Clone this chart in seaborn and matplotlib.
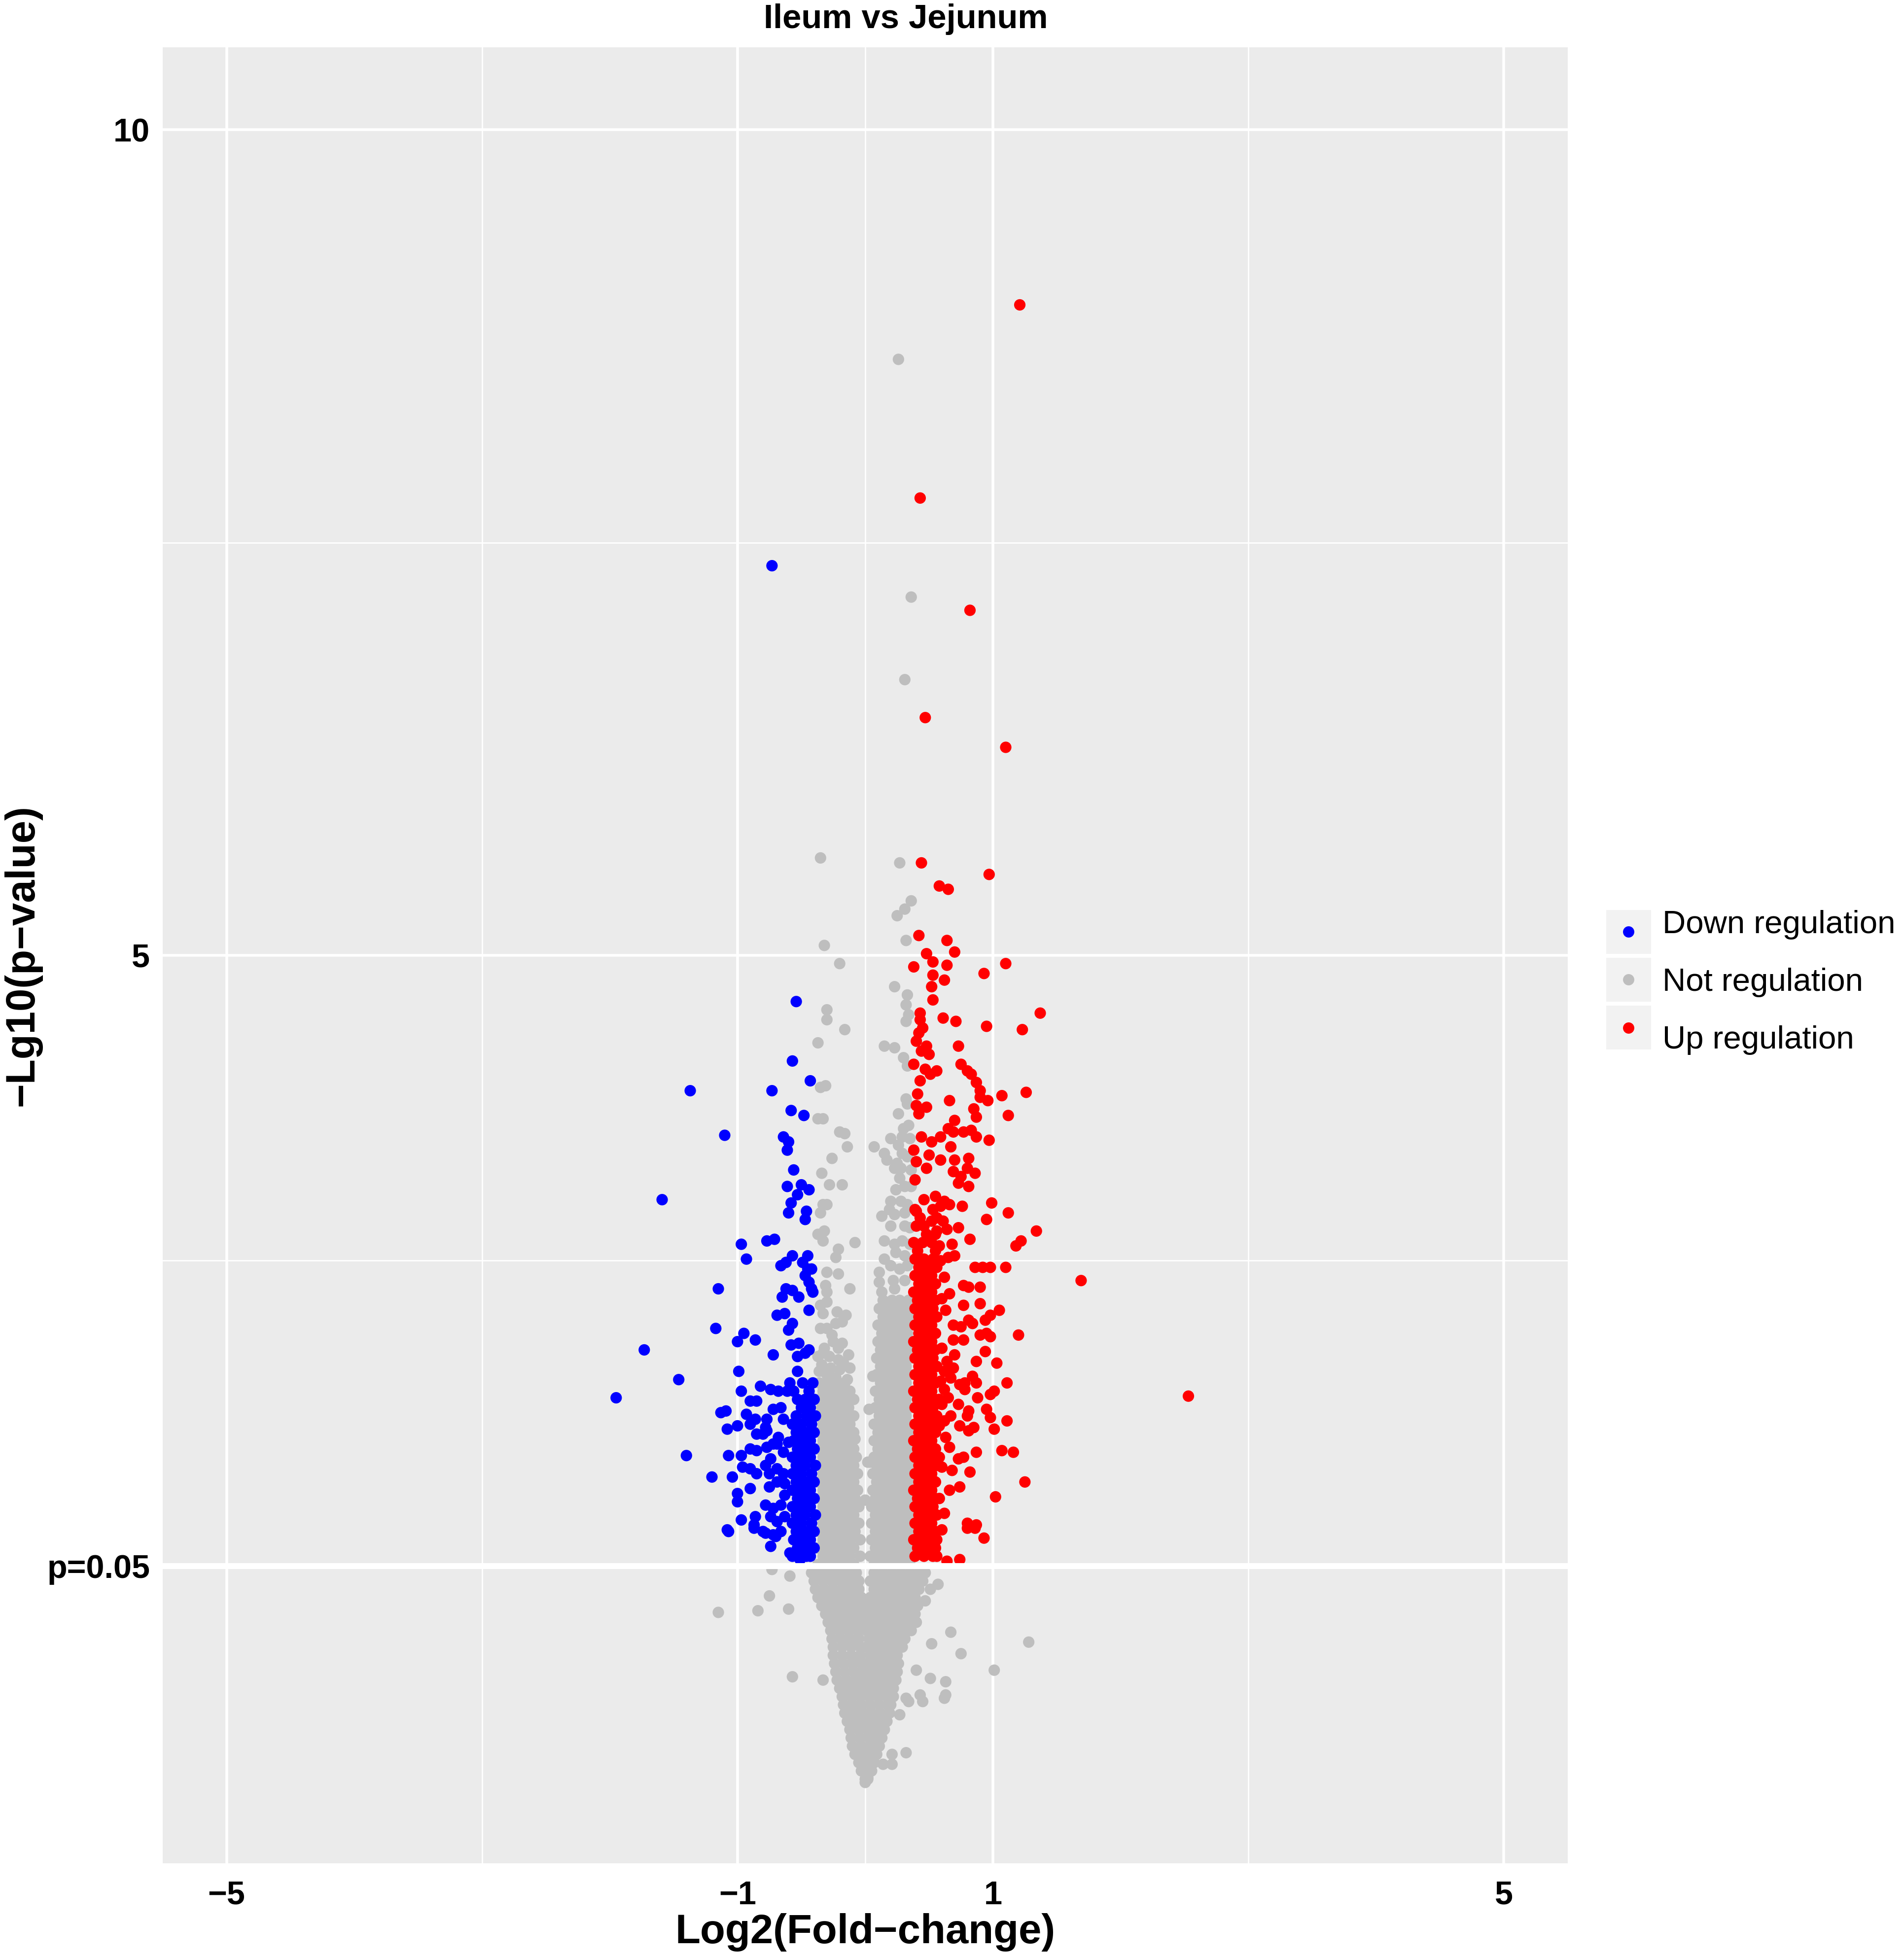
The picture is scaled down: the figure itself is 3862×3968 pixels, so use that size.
import matplotlib
matplotlib.use("Agg")
import matplotlib.pyplot as plt
import seaborn as sns
import pandas as pd
from matplotlib.patches import Rectangle
from matplotlib.lines import Line2D

# ---------------- data ----------------
title = "Ileum vs Jejunum"
x_label = "Log2(Fold\u2212change)"
y_label = "\u2212Lg10(p\u2212value)"
group_names = ["Down regulation", "Not regulation", "Up regulation"]
group_colors = ["#0000FF", "#BEBEBE", "#FF0000"]
x_ticks = [-5, -1, 1, 5]
x_tick_labels = ["\u22125", "\u22121", "1", "5"]
y_ticks = [1.30103, 5, 10]
y_tick_labels = ["p=0.05", "5", "10"]

# isolated down-regulated points (log2FC, -log10 p)
down_pts = [
    (-0.73, 7.36), (-0.54, 4.72), (-0.57, 4.36), (-0.43, 4.24), (-1.37, 4.18), (-0.73, 4.18),
    (-0.58, 4.06), (-0.48, 4.03), (-1.10, 3.91), (-0.64, 3.90), (-0.60, 3.87), (-0.61, 3.82),
    (-0.56, 3.70), (-0.61, 3.60), (-0.50, 3.61), (-0.44, 3.58), (-0.53, 3.55), (-0.58, 3.50),
    (-0.60, 3.44), (-0.46, 3.45), (-0.47, 3.40), (-1.59, 3.52), (-0.97, 3.25), (-0.77, 3.27),
    (-0.71, 3.28), (-0.93, 3.16), (-0.57, 3.18), (-0.45, 3.18), (-0.66, 3.12), (-0.62, 3.14),
    (-0.49, 3.14), (-0.45, 3.10), (-0.42, 3.10), (-0.47, 3.06), (-0.44, 3.02), (-0.42, 2.98),
    (-0.41, 2.96), (-1.15, 2.98), (-0.62, 2.98), (-0.57, 2.97), (-0.65, 2.93), (-0.52, 2.93),
    (-0.44, 2.85), (-0.69, 2.82), (-0.63, 2.83), (-0.57, 2.77), (-0.60, 2.73), (-1.17, 2.74),
    (-0.95, 2.71), (-1.00, 2.66), (-0.86, 2.67), (-1.73, 2.61), (-0.58, 2.64), (-0.52, 2.65),
    (-0.72, 2.58), (-0.53, 2.57), (-0.47, 2.59), (-0.44, 2.61), (-0.99, 2.48), (-0.53, 2.48),
    (-1.46, 2.43), (-1.95, 2.32), (-0.59, 2.41), (-0.82, 2.39), (-0.97, 2.36), (-0.74, 2.37),
    (-0.68, 2.36), (-0.61, 2.36), (-0.90, 2.30), (-0.85, 2.30), (-1.13, 2.23), (-1.09, 2.24),
    (-0.93, 2.22), (-0.86, 2.19), (-0.90, 2.16), (-0.72, 2.25), (-0.66, 2.26), (-0.64, 2.19),
    (-0.77, 2.19), (-0.78, 2.14), (-1.08, 2.13), (-1.00, 2.15), (-0.85, 2.10), (-0.80, 2.10),
    (-0.77, 2.12), (-0.68, 2.08), (-0.69, 2.04), (-0.60, 2.05), (-1.40, 1.97), (-1.07, 1.97),
    (-0.97, 1.97), (-0.90, 2.01), (-0.85, 2.00), (-0.77, 2.02), (-0.72, 2.04), (-0.64, 1.99),
    (-0.96, 1.90), (-0.90, 1.89), (-0.85, 1.86), (-0.78, 1.91), (-0.74, 1.95), (-0.75, 1.86),
    (-1.20, 1.84), (-1.04, 1.84), (-0.69, 1.89), (-0.64, 1.86), (-0.90, 1.77), (-1.00, 1.74),
    (-1.00, 1.69), (-0.75, 1.78), (-0.69, 1.81), (-0.63, 1.80), (-0.63, 1.73), (-0.78, 1.67),
    (-0.72, 1.65), (-0.66, 1.67), (-0.97, 1.58), (-0.86, 1.60), (-0.87, 1.55), (-1.08, 1.52),
    (-0.80, 1.51), (-0.74, 1.60), (-0.69, 1.57), (-0.63, 1.60), (-0.72, 1.49), (-0.66, 1.51),
    (-0.74, 1.42), (-0.87, 1.53), (-0.78, 1.50), (-0.70, 1.48), (-0.59, 1.38), (-0.51, 1.34),
    (-0.46, 1.36), (-0.43, 1.43), (-1.07, 1.51),
]
# densely packed down-regulated rows: (-log10 p, [log2FC ...])
down_rows = [
    (2.41, [-0.41, -0.49]), (2.36, [-0.44, -0.56]), (2.31, [-0.40, -0.47, -0.53]),
    (2.26, [-0.43, -0.50]), (2.21, [-0.39, -0.46, -0.54]), (2.16, [-0.42, -0.50, -0.57]),
    (2.11, [-0.40, -0.47, -0.54]), (2.06, [-0.43, -0.50, -0.56]), (2.01, [-0.40, -0.46, -0.53]),
    (1.96, [-0.43, -0.50, -0.57]), (1.91, [-0.39, -0.47, -0.54]), (1.86, [-0.42, -0.50, -0.57]),
    (1.81, [-0.40, -0.47, -0.54]), (1.76, [-0.43, -0.50, -0.57]), (1.71, [-0.40, -0.46, -0.53]),
    (1.66, [-0.43, -0.50, -0.57]), (1.61, [-0.39, -0.47, -0.54]), (1.56, [-0.42, -0.50, -0.57]),
    (1.51, [-0.40, -0.47, -0.54]), (1.46, [-0.43, -0.50, -0.56]), (1.41, [-0.40, -0.46, -0.53]),
    (1.36, [-0.43, -0.50, -0.57]),
]

# isolated up-regulated points
up_pts = [
    (1.21, 8.94), (0.43, 7.77), (0.82, 7.09), (0.47, 6.44), (1.10, 6.26), (0.44, 5.56),
    (0.97, 5.49), (0.58, 5.42), (0.65, 5.40), (0.42, 5.12), (0.64, 5.09), (0.70, 5.02),
    (0.48, 5.01), (0.53, 4.96), (0.38, 4.93), (0.64, 4.94), (1.10, 4.95), (0.93, 4.89),
    (0.53, 4.88), (0.62, 4.85), (0.52, 4.81), (0.53, 4.73), (1.37, 4.65), (0.43, 4.65),
    (0.43, 4.61), (0.61, 4.62), (0.71, 4.60), (0.95, 4.57), (1.23, 4.55), (0.45, 4.56),
    (0.42, 4.53), (0.40, 4.48), (0.48, 4.45), (0.44, 4.42), (0.50, 4.40), (0.73, 4.45),
    (0.38, 4.34), (0.75, 4.34), (0.80, 4.30), (0.83, 4.28), (0.47, 4.31), (0.51, 4.28),
    (0.56, 4.30), (0.43, 4.24), (0.87, 4.23), (0.90, 4.18), (0.90, 4.14), (0.96, 4.12),
    (1.07, 4.15), (1.26, 4.17), (0.41, 4.16), (0.40, 4.09), (0.48, 4.08), (0.42, 4.04),
    (0.66, 4.12), (0.85, 4.07), (0.87, 4.02), (1.12, 4.03), (0.70, 4.00), (0.65, 3.95),
    (0.69, 3.93), (0.77, 3.93), (0.83, 3.94), (0.87, 3.90), (0.97, 3.88), (0.44, 3.90),
    (0.52, 3.87), (0.59, 3.90), (0.67, 3.84), (0.38, 3.82), (0.50, 3.79), (0.40, 3.75),
    (0.48, 3.71), (0.59, 3.76), (0.70, 3.76), (0.81, 3.77), (0.69, 3.69), (0.75, 3.66),
    (0.80, 3.71), (0.86, 3.68), (0.39, 3.64), (0.81, 3.60), (0.73, 3.62), (0.46, 3.52),
    (0.55, 3.54), (0.62, 3.51), (0.59, 3.48), (0.66, 3.49), (0.76, 3.48), (0.99, 3.50),
    (1.12, 3.44), (0.95, 3.40), (0.40, 3.45), (0.52, 3.39), (0.56, 3.41), (0.61, 3.39),
    (0.73, 3.35), (0.64, 3.34), (0.56, 3.33), (1.34, 3.33), (1.22, 3.27), (1.18, 3.24),
    (0.82, 3.28), (0.68, 3.25), (0.58, 3.24), (0.65, 3.17), (0.59, 3.15), (0.86, 3.11),
    (0.92, 3.11), (0.98, 3.11), (1.10, 3.11), (1.69, 3.03), (0.77, 3.00), (0.81, 2.99),
    (0.90, 2.99), (0.77, 2.88), (0.90, 2.89), (1.05, 2.85), (0.98, 2.82), (0.94, 2.79),
    (0.81, 2.79), (0.84, 2.77), (0.69, 2.76), (0.75, 2.75), (1.20, 2.70), (0.90, 2.70),
    (0.95, 2.71), (0.98, 2.69), (0.77, 2.67), (0.69, 2.67), (0.94, 2.60), (0.87, 2.54),
    (1.03, 2.53), (0.64, 2.54), (0.69, 2.50), (0.84, 2.45), (0.87, 2.41), (0.78, 2.41),
    (0.74, 2.40), (1.11, 2.41), (0.59, 2.42), (0.62, 2.37), (0.58, 2.31), (0.67, 2.44),
    (0.98, 2.34), (1.01, 2.36), (0.78, 2.37), (0.88, 2.32), (2.53, 2.33), (0.73, 2.28),
    (0.81, 2.24), (0.80, 2.21), (0.95, 2.25), (0.98, 2.20), (0.67, 2.21), (0.62, 2.18),
    (0.58, 2.15), (0.74, 2.15), (0.81, 2.12), (0.85, 2.14), (1.11, 2.18), (1.01, 2.13),
    (0.66, 2.02), (0.87, 1.99), (1.07, 2.00), (1.16, 1.99), (0.73, 1.95), (0.77, 1.96),
    (0.58, 1.96), (0.82, 1.87), (1.25, 1.81), (0.53, 1.82), (0.74, 1.78), (0.58, 1.71),
    (0.52, 1.70), (1.02, 1.72), (0.80, 1.56), (0.87, 1.55), (0.56, 1.46), (0.52, 1.43),
    (0.93, 1.47), (0.56, 1.36), (0.64, 1.33), (0.74, 1.34), (0.80, 1.53), (0.86, 1.53),
    (0.62, 3.05), (0.60, 2.92), (0.63, 2.85), (0.60, 2.62), (0.62, 2.48), (0.60, 2.28),
    (0.63, 2.08), (0.60, 1.90), (0.62, 1.62), (0.60, 1.52), (0.66, 1.76), (0.68, 1.88),
    (0.65, 2.32), (0.70, 2.58), (0.66, 2.95), (0.70, 3.18),
]
up_rows = [
    (3.46, [0.39, 0.53]), (3.41, [0.43, 0.56]), (3.36, [0.40, 0.46]),
    (3.31, [0.48, 0.55]), (3.26, [0.38, 0.45, 0.52]), (3.21, [0.41, 0.55]),
    (3.16, [0.39, 0.46, 0.53]), (3.11, [0.42, 0.49, 0.56]), (3.06, [0.39, 0.46, 0.52]),
    (3.01, [0.42, 0.49, 0.55]), (2.96, [0.38, 0.45, 0.52]), (2.91, [0.41, 0.48, 0.55]),
    (2.86, [0.39, 0.46, 0.53]), (2.81, [0.42, 0.49, 0.56]), (2.76, [0.39, 0.45, 0.52]),
    (2.71, [0.42, 0.48, 0.55]), (2.66, [0.38, 0.45, 0.52]), (2.61, [0.41, 0.48, 0.55]),
    (2.56, [0.39, 0.46, 0.53]), (2.51, [0.42, 0.49, 0.56]), (2.46, [0.39, 0.46, 0.52]),
    (2.41, [0.42, 0.49, 0.55]), (2.36, [0.38, 0.45, 0.52]), (2.31, [0.41, 0.48, 0.55]),
    (2.26, [0.39, 0.46, 0.53]), (2.21, [0.42, 0.49, 0.56]), (2.16, [0.39, 0.45, 0.52]),
    (2.11, [0.42, 0.48, 0.55]), (2.06, [0.38, 0.45, 0.52]), (2.01, [0.41, 0.48, 0.55]),
    (1.96, [0.39, 0.46, 0.53]), (1.91, [0.42, 0.49, 0.56]), (1.86, [0.39, 0.46, 0.52]),
    (1.81, [0.42, 0.49, 0.55]), (1.76, [0.38, 0.45, 0.52]), (1.71, [0.41, 0.48, 0.55]),
    (1.66, [0.39, 0.46, 0.53]), (1.61, [0.42, 0.49, 0.56]), (1.56, [0.39, 0.45, 0.52]),
    (1.51, [0.42, 0.48, 0.55]), (1.46, [0.38, 0.45, 0.52]), (1.41, [0.41, 0.48, 0.55]),
    (1.36, [0.39, 0.46, 0.53]),
]

# isolated not-regulated points
not_pts = [
    (0.26, 8.61), (0.36, 7.17), (0.31, 6.67), (-0.35, 5.59), (0.27, 5.56), (0.36, 5.33),
    (0.31, 5.28), (0.25, 5.24), (0.32, 5.09), (-0.32, 5.06), (-0.20, 4.95), (0.23, 4.81),
    (0.33, 4.76), (0.32, 4.70), (0.34, 4.64), (0.32, 4.60), (-0.30, 4.67), (-0.30, 4.61),
    (-0.16, 4.55), (-0.37, 4.47), (0.15, 4.45), (0.23, 4.44), (0.30, 4.38), (0.33, 4.33),
    (-0.35, 4.20), (-0.31, 4.21), (0.32, 4.13), (0.33, 4.10), (0.26, 4.04), (-0.37, 4.01),
    (-0.33, 4.01), (-0.20, 3.93), (-0.16, 3.92), (-0.14, 3.84), (-0.26, 3.77), (-0.34, 3.68),
    (-0.28, 3.61), (-0.18, 3.61), (-0.33, 3.49), (-0.30, 3.49), (-0.35, 3.44), (-0.37, 3.31),
    (-0.32, 3.33), (-0.33, 3.27), (-0.08, 3.26), (-0.21, 3.22), (-0.23, 3.17), (-0.30, 3.08),
    (-0.21, 3.07), (-0.12, 2.98), (-0.31, 3.00), (-0.30, 2.96), (-0.35, 2.88), (-0.30, 2.90),
    (-0.33, 2.83), (-0.22, 2.84), (-0.15, 2.82), (-0.18, 2.78), (-0.23, 2.77), (-0.35, 2.74),
    (-0.30, 2.74), (-0.25, 2.66), (-0.18, 2.65), (-0.21, 2.62), (-0.37, 2.57), (-0.33, 2.59),
    (-0.28, 2.57), (-0.21, 2.55), (-0.17, 2.53), (-0.36, 2.48), (-0.30, 2.46), (-0.23, 2.44),
    (-0.14, 2.43), (-0.08, 2.07), (0.02, 1.93), (0.03, 2.25), (-0.07, 1.76), (0.00, 1.70),
    (0.06, 2.45), (0.04, 1.93), (0.07, 3.84), (0.15, 3.80), (0.17, 3.76), (0.25, 3.74),
    (0.20, 3.89), (0.29, 3.90), (0.35, 3.89), (0.29, 3.80), (0.23, 3.71), (0.28, 3.71),
    (0.27, 3.65), (0.24, 3.58), (0.31, 3.60), (0.36, 3.60), (0.20, 3.51), (0.28, 3.51),
    (0.33, 3.49), (0.13, 3.42), (0.19, 3.46), (0.23, 3.43), (0.31, 3.44), (0.20, 3.36),
    (0.31, 3.36), (0.35, 3.35), (0.15, 3.27), (0.23, 3.25), (0.29, 3.27), (0.35, 3.25),
    (0.24, 3.20), (0.31, 3.18), (0.15, 3.16), (0.11, 3.08), (0.20, 3.12), (0.27, 3.10),
    (0.33, 3.12), (0.11, 3.02), (0.22, 3.03), (0.31, 3.03), (0.13, 2.96), (0.23, 2.98),
    (0.30, 3.95), (0.34, 3.97), (0.26, 3.85), (0.33, 3.78), (0.36, 3.70),
    (-0.34, 2.52), (-0.27, 2.50), (-0.20, 2.49), (-0.12, 2.50), (-0.32, 2.62), (-0.26, 2.70),
    (-0.13, 2.58),
    (-0.73, 1.28), (-0.59, 1.24), (-0.75, 1.12), (-1.15, 1.02), (-0.84, 1.03), (-0.60, 1.04),
    (-0.57, 0.63), (-0.33, 0.61), (0.57, 1.19), (0.51, 1.16), (0.47, 1.09), (0.67, 0.90),
    (0.52, 0.83), (0.75, 0.77), (1.28, 0.84), (0.40, 0.67), (1.01, 0.67), (0.51, 0.62),
    (0.63, 0.60), (0.43, 0.52), (0.45, 0.48), (0.63, 0.52), (0.62, 0.50), (0.32, 0.50),
    (0.34, 0.48), (0.27, 0.40), (0.21, 0.16), (0.32, 0.17), (0.14, 0.10), (0.21, 0.10),
    (0.02, 0.02), (0.00, -0.01),
]
not_rows = [
    (2.91, [0.14, 0.21, 0.27, 0.34]),
    (2.86, [0.11, 0.18, 0.25, 0.31, 0.36]),
    (2.81, [0.14, 0.21, 0.28, 0.34]),
    (2.76, [0.10, 0.17, 0.24, 0.31, 0.36]),
    (2.71, [0.13, 0.20, 0.27, 0.33]),
    (2.66, [0.10, 0.16, 0.23, 0.30, 0.36]),
    (2.61, [0.12, 0.19, 0.26, 0.33]),
    (2.56, [0.09, 0.16, 0.22, 0.29, 0.35]),
    (2.51, [0.12, 0.19, 0.26, 0.32]),
    (2.46, [0.09, 0.15, 0.22, 0.29, 0.35]),
    (2.41, [-0.36, -0.29, -0.22, -0.16, 0.12, 0.19, 0.25, 0.32]),
    (2.36, [-0.33, -0.26, -0.19, -0.12, 0.08, 0.15, 0.22, 0.29, 0.36]),
    (2.31, [-0.37, -0.30, -0.23, -0.16, -0.09, 0.11, 0.18, 0.25, 0.32]),
    (2.26, [-0.34, -0.27, -0.20, -0.13, 0.08, 0.14, 0.21, 0.28, 0.35]),
    (2.21, [-0.37, -0.30, -0.23, -0.16, -0.09, 0.11, 0.18, 0.25, 0.32]),
    (2.16, [-0.33, -0.26, -0.19, -0.12, 0.07, 0.14, 0.21, 0.28, 0.35]),
    (2.11, [-0.36, -0.29, -0.22, -0.15, -0.09, 0.10, 0.17, 0.24, 0.31, 0.36]),
    (2.06, [-0.33, -0.26, -0.19, -0.12, 0.07, 0.14, 0.21, 0.28, 0.34]),
    (2.01, [-0.37, -0.30, -0.23, -0.16, -0.09, 0.10, 0.17, 0.24, 0.31, 0.36]),
    (1.96, [-0.33, -0.26, -0.19, -0.12, -0.07, 0.07, 0.13, 0.20, 0.27, 0.34]),
    (1.91, [-0.36, -0.29, -0.22, -0.15, -0.09, 0.09, 0.16, 0.23, 0.30, 0.36]),
    (1.86, [-0.33, -0.26, -0.19, -0.12, -0.06, 0.06, 0.13, 0.20, 0.27, 0.34]),
    (1.81, [-0.37, -0.30, -0.23, -0.16, -0.09, 0.09, 0.16, 0.23, 0.30, 0.36]),
    (1.76, [-0.33, -0.26, -0.19, -0.12, -0.06, 0.06, 0.13, 0.20, 0.27, 0.34]),
    (1.71, [-0.36, -0.29, -0.22, -0.15, -0.08, 0.08, 0.15, 0.22, 0.29, 0.36]),
    (1.66, [-0.33, -0.26, -0.19, -0.12, -0.05, 0.05, 0.12, 0.19, 0.26, 0.33]),
    (1.61, [-0.37, -0.30, -0.23, -0.16, -0.09, 0.08, 0.15, 0.22, 0.29, 0.36]),
    (1.56, [-0.33, -0.26, -0.19, -0.12, -0.05, 0.05, 0.12, 0.19, 0.26, 0.33]),
    (1.51, [-0.36, -0.29, -0.22, -0.15, -0.08, 0.08, 0.15, 0.22, 0.29, 0.36]),
    (1.46, [-0.33, -0.26, -0.19, -0.12, -0.04, 0.05, 0.12, 0.19, 0.26, 0.33]),
    (1.41, [-0.37, -0.30, -0.23, -0.16, -0.09, 0.08, 0.15, 0.22, 0.29, 0.36]),
    (1.36, [-0.33, -0.26, -0.19, -0.12, -0.04, 0.04, 0.11, 0.18, 0.25, 0.32]),
    (1.31, [-0.37, -0.30, -0.23, -0.16, -0.09, 0.07, 0.14, 0.21, 0.28, 0.35]),
    (1.26, [-0.42, -0.35, -0.28, -0.21, -0.14, -0.07, 0.07, 0.14, 0.21, 0.28, 0.35, 0.42, 0.47]),
    (1.21, [-0.40, -0.33, -0.26, -0.19, -0.12, -0.05, 0.04, 0.11, 0.18, 0.25, 0.32, 0.39, 0.45]),
    (1.16, [-0.39, -0.32, -0.25, -0.18, -0.11, -0.05, 0.07, 0.14, 0.21, 0.28, 0.35, 0.42]),
    (1.11, [-0.37, -0.30, -0.23, -0.16, -0.09, -0.03, 0.04, 0.11, 0.18, 0.25, 0.32, 0.39]),
    (1.06, [-0.34, -0.27, -0.20, -0.13, -0.06, 0.01, 0.08, 0.15, 0.22, 0.29, 0.36, 0.41]),
    (1.01, [-0.31, -0.24, -0.17, -0.10, -0.03, 0.04, 0.11, 0.18, 0.25, 0.32, 0.39]),
    (0.96, [-0.29, -0.22, -0.15, -0.08, -0.01, 0.06, 0.13, 0.20, 0.27, 0.34, 0.40]),
    (0.91, [-0.27, -0.20, -0.13, -0.06, 0.01, 0.08, 0.15, 0.22, 0.29, 0.36]),
    (0.86, [-0.26, -0.19, -0.12, -0.05, 0.03, 0.10, 0.17, 0.24, 0.31]),
    (0.81, [-0.25, -0.18, -0.11, -0.04, 0.01, 0.08, 0.15, 0.22, 0.29]),
    (0.76, [-0.25, -0.18, -0.11, -0.04, 0.04, 0.11, 0.18, 0.25]),
    (0.71, [-0.24, -0.17, -0.10, -0.03, 0.01, 0.08, 0.15, 0.22, 0.26]),
    (0.66, [-0.23, -0.16, -0.09, -0.02, 0.05, 0.12, 0.19, 0.25]),
    (0.61, [-0.22, -0.15, -0.08, -0.01, 0.03, 0.10, 0.17, 0.24]),
    (0.56, [-0.20, -0.13, -0.06, 0.01, 0.08, 0.15, 0.22]),
    (0.51, [-0.18, -0.11, -0.04, 0.03, 0.10, 0.17, 0.22]),
    (0.46, [-0.17, -0.10, -0.03, 0.04, 0.11, 0.18, 0.20]),
    (0.41, [-0.16, -0.09, -0.02, 0.05, 0.12, 0.19]),
    (0.36, [-0.14, -0.07, 0.00, 0.07, 0.14, 0.17]),
    (0.31, [-0.12, -0.05, 0.02, 0.09, 0.15]),
    (0.26, [-0.11, -0.04, 0.03, 0.10, 0.13]),
    (0.21, [-0.10, -0.03, 0.04, 0.11]),
    (0.16, [-0.08, -0.01, 0.06, 0.09]),
    (0.11, [-0.05, 0.01, 0.07]),
    (0.06, [-0.03, 0.02, 0.05]),
    (0.01, [0.00, 0.02]),
]


def build(points, rows, name):
    xs = [p[0] for p in points]
    ys = [p[1] for p in points]
    for yv, row in rows:
        xs.extend(row)
        ys.extend([yv] * len(row))
    return pd.DataFrame({"log2fc": xs, "nlogp": ys, "group": name})


df = pd.concat([
    build(not_pts, not_rows, "Not regulation"),
    build(down_pts, down_rows, "Down regulation"),
    build(up_pts, up_rows, "Up regulation"),
], ignore_index=True)

# ---------------- styling ----------------
W, H, DPI = 3862, 3968, 300
sns.set_theme(style="darkgrid", rc={"axes.facecolor": "#EBEBEB", "figure.facecolor": "white",
                                    "grid.color": "white"})
plt.rcParams["font.family"] = ["Liberation Sans", "DejaVu Sans"]

fig = plt.figure(figsize=(W / DPI, H / DPI), dpi=DPI)
pl, pr, pt, pb = 330, 3180, 96, 3780
ax = fig.add_axes([pl / W, 1 - pb / H, (pr - pl) / W, (pb - pt) / H])

palette = dict(zip(group_names, group_colors))
sns.scatterplot(data=df, x="log2fc", y="nlogp", hue="group", hue_order=group_names,
                palette=palette, s=31, linewidth=0, alpha=1, legend=False, ax=ax, zorder=2)

ax.set_xlim(-5.5, 5.5)
ax.set_ylim(-0.5, 10.5)
ax.set_xticks(x_ticks)
ax.set_xticklabels(x_tick_labels)
ax.set_yticks(y_ticks)
ax.set_yticklabels(y_tick_labels)
ax.set_xticks([-3, 0, 3], minor=True)
ax.set_yticks([(y_ticks[0] + y_ticks[1]) / 2, (y_ticks[1] + y_ticks[2]) / 2], minor=True)
ax.grid(which="major", color="white", linewidth=1.32)
ax.grid(which="minor", color="white", linewidth=0.66)
ax.set_axisbelow(True)
ax.axhline(y_ticks[0], color="white", linewidth=2.9, zorder=3)
for sp in ax.spines.values():
    sp.set_visible(False)
ax.tick_params(which="major", length=3.8, width=1.2, color="#333333", labelsize=16,
               labelcolor="black")
ax.tick_params(axis="x", which="major", pad=4.5)
ax.tick_params(axis="y", which="major", pad=2.4)
ax.tick_params(which="minor", length=0)
for lab in ax.get_xticklabels() + ax.get_yticklabels():
    lab.set_fontweight("bold")

ax.set_xlabel(x_label, fontsize=20, fontweight="bold", color="black")
ax.xaxis.set_label_coords(0.5, (pb - 3920) / (pb - pt))
ax.xaxis.label.set_va("center")
ax.set_ylabel(y_label, fontsize=20, fontweight="bold", color="black")
ax.yaxis.set_label_coords((46 - pl) / (pr - pl), 0.5)
ax.yaxis.label.set_va("center")

fig.text(1837 / W, 1 - 57 / H, title, ha="center", va="baseline", fontsize=16.5,
         fontweight="bold", color="black")

# ---------------- legend (ggplot style, no title) ----------------
key_tops = [1846, 1943, 2040]
key_centers = [1890, 1987, 2085]
text_baselines = [1893, 2010, 2127]
for name, color, top, yc, yb in zip(group_names, group_colors, key_tops, key_centers, text_baselines):
    fig.add_artist(Rectangle((3258 / W, 1 - (top + 89) / H), 91 / W, 89 / H,
                             transform=fig.transFigure, facecolor="#F2F2F2", edgecolor="none"))
    fig.add_artist(Line2D([3303 / W], [1 - yc / H], marker="o", markersize=5.5, linestyle="",
                          markerfacecolor=color, markeredgewidth=0, transform=fig.transFigure))
    fig.text(3372 / W, 1 - yb / H, name, ha="left", va="baseline", fontsize=15.7, color="black")

fig.savefig("out.png", dpi=DPI)
